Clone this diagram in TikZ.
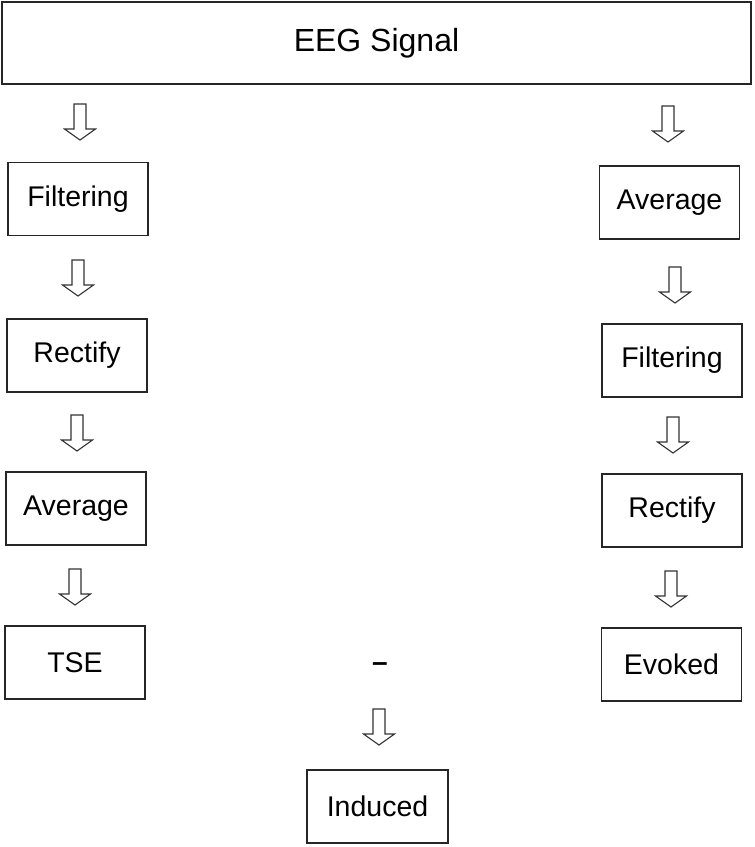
\documentclass[tikz,border=0pt]{standalone}
\usepackage{fontspec}
\setmainfont{Liberation Sans}
\begin{document}
\begin{tikzpicture}[x=1pt,y=-1pt,
  box/.style={draw=black!85, line width=1.4pt, rectangle, minimum width=140pt, minimum height=73pt, inner sep=0pt, font=\fontsize{28.5}{31}\selectfont},
  title/.style={draw=black!85, line width=1.4pt, rectangle, minimum width=749pt, minimum height=82pt, inner sep=0pt, font=\fontsize{32}{35}\selectfont},
  arrowline/.style={draw=black!80, line width=1.1pt, line join=miter},
  barrow/.pic={\path[arrowline] (-6,0) -- (6,0) -- (6,25) -- (15.5,25) -- (0,36) -- (-15.5,25) -- (-6,25) -- cycle;}
]
\useasboundingbox (0,0) rectangle (755,847);
\fill[white] (0,0) rectangle (755,847);

\node[title] (eeg) at (376.5,43) {EEG Signal};

% left column
\node[box] (lfilt) at (78,199) {Filtering};
\node[box] (lrect) at (77,355.5) {Rectify};
\node[box] (lavg)  at (76,508.5) {Average};
\node[box] (tse)   at (75,662.5) {TSE};

% right column
\node[box] (ravg)  at (669.5,202.5) {Average};
\node[box] (rfilt) at (672,360.5) {Filtering};
\node[box] (rrect) at (672,510.5) {Rectify};
\node[box] (evk)   at (671.5,664.5) {Evoked};

% bottom
\node[font=\fontsize{28}{30}\selectfont\bfseries, inner sep=0pt] (minus) at (380,667) {–};
\node[box, minimum width=141pt] (ind) at (377.5,806.5) {Induced};

% block arrows
\coordinate (a1) at (80,104);
\coordinate (a2) at (78,260);
\coordinate (a3) at (77,415);
\coordinate (a4) at (75,569);
\coordinate (b1) at (668,106);
\coordinate (b2) at (675,267);
\coordinate (b3) at (673,417);
\coordinate (b4) at (671,571);
\coordinate (c1) at (379,709);
\foreach \p in {a1,a2,a3,a4,b1,b2,b3,b4,c1} {\pic at (\p) {barrow};}
\end{tikzpicture}
\end{document}
